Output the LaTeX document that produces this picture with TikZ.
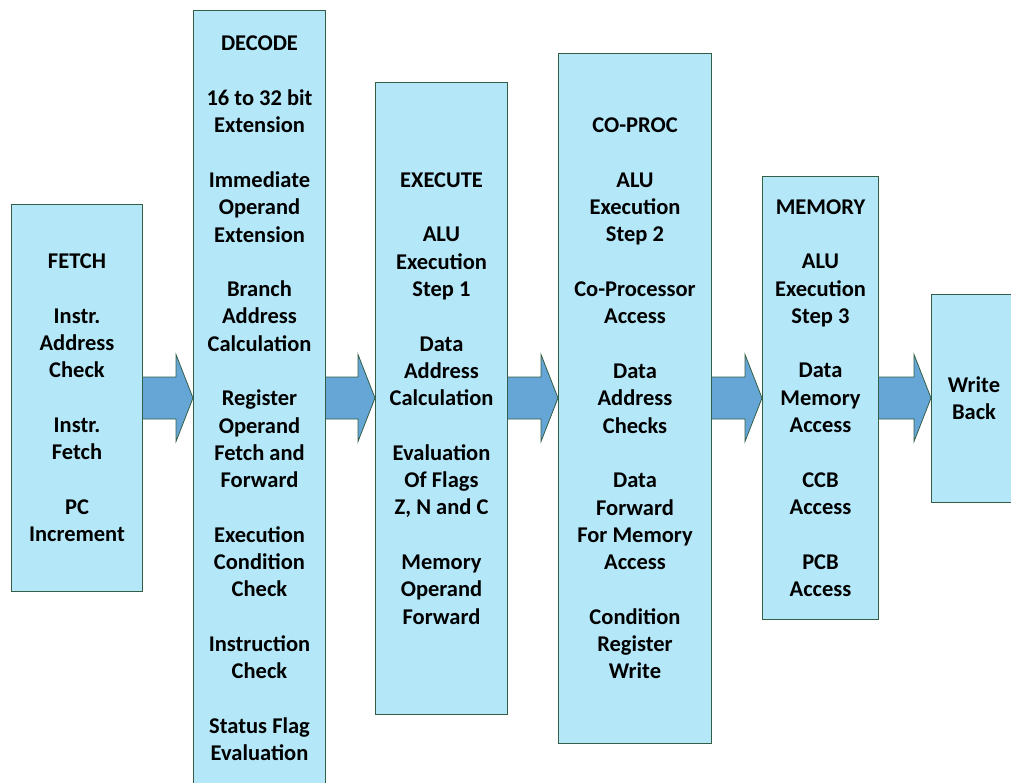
\documentclass[tikz,border=0pt]{standalone}
\usepackage{fontspec}
\setmainfont{Carlito}
\usetikzlibrary{calc}
\definecolor{boxfill}{RGB}{180,232,249}
\definecolor{boxline}{RGB}{52,94,70}
\definecolor{arrfill}{RGB}{101,166,214}
\begin{document}
\begin{tikzpicture}[x=1pt,y=1pt,
  stage/.style={draw=boxline, line width=1pt, fill=boxfill, rectangle, anchor=north west,
    inner sep=0pt, align=center, font=\bfseries\fontsize{22.5}{27.3}\selectfont},
  blockarr/.style={draw=boxline, line width=0.8pt, fill=arrfill, line join=miter}]
\useasboundingbox (0,0) rectangle (1011,-783);
\clip (0,0) rectangle (1011,-783);
\newcommand{\gap}{\\[27.3pt]}
\node[stage, minimum width=131pt, minimum height=387pt] (fetch) at (11,-204)
  {FETCH\gap Instr.\\Address\\Check\gap Instr.\\Fetch\gap PC\\Increment};
\node[stage, minimum width=132pt, minimum height=776pt] (decode) at (193,-10)
  {DECODE\gap 16 to 32 bit\\Extension\gap Immediate\\Operand\\Extension\gap Branch\\Address\\Calculation\gap Register\\Operand\\Fetch and\\Forward\gap Execution\\Condition\\Check\gap Instruction\\Check\gap Status Flag\\Evaluation};
\node[stage, minimum width=132pt, minimum height=632pt] (execute) at (375,-82)
  {EXECUTE\gap ALU\\Execution\\Step 1\gap Data\\Address\\Calculation\gap Evaluation\\Of Flags\\Z, N and C\gap Memory\\Operand\\Forward};
\node[stage, minimum width=153pt, minimum height=690pt] (coproc) at (558,-53)
  {CO-PROC\gap ALU\\Execution\\Step 2\gap Co-Processor\\Access\gap Data\\Address\\Checks\gap Data\\Forward\\For Memory\\Access\gap Condition\\Register\\Write};
\node[stage, minimum width=116pt, minimum height=443pt] (memory) at (762,-176)
  {MEMORY\gap ALU\\Execution\\Step 3\gap Data\\Memory\\Access\gap CCB\\Access\gap PCB\\Access};
\node[stage, minimum width=85pt, minimum height=208pt] (wb) at (931,-294)
  {Write\\Back};
\newcommand{\blockarrow}[2]{%
  \coordinate (s) at (#1.east |- 0,-398);
  \coordinate (t) at (#2.west |- 0,-398);
  \draw[blockarr] ($(s)+(0,21)$) -- ($(t)+(-17,21)$) -- ($(t)+(-17,43.5)$) -- (t)
    -- ($(t)+(-17,-43.5)$) -- ($(t)+(-17,-21)$) -- ($(s)+(0,-21)$);}
\blockarrow{fetch}{decode}
\blockarrow{decode}{execute}
\blockarrow{execute}{coproc}
\blockarrow{coproc}{memory}
\blockarrow{memory}{wb}
\end{tikzpicture}
\end{document}
